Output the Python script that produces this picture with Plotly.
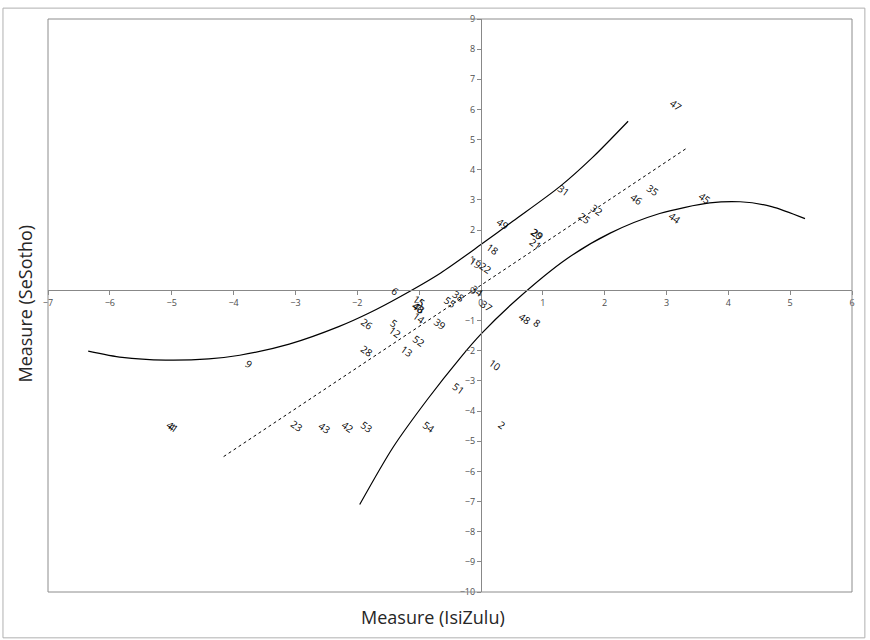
import plotly.graph_objects as go

# item labels and their measures
labels = ["47", "31", "35", "46", "45", "44", "32", "25", "49", "20", "29", "21", "18",
          "19", "22", "6", "15", "40", "48", "14", "55", "38", "34", "37", "39", "5", "12",
          "52", "13", "26", "28", "9", "4", "41", "23", "43", "42", "53", "54", "2", "51",
          "10", "48", "8"]
isizulu = [3.15, 1.33, 2.78, 2.52, 3.62, 3.14, 1.88, 1.68, 0.36, 0.91, 0.92, 0.89, 0.19,
           -0.08, 0.08, -1.39, -1.00, -1.01, -1.00, -1.00, -0.50, -0.36, -0.06, 0.10, -0.66, -1.41, -1.39,
           -1.00, -1.20, -1.84, -1.84, -3.75, -4.99, -4.98, -2.97, -2.52, -2.15, -1.84, -0.84, 0.34, -0.37,
           0.23, 0.72, 0.91]
sesotho = [6.14, 3.33, 3.33, 3.04, 3.07, 2.41, 2.67, 2.41, 2.21, 1.88, 1.88, 1.55, 1.39,
           0.92, 0.76, -0.03, -0.36, -0.59, -0.59, -0.92, -0.40, -0.17, -0.03, -0.50, -1.12, -1.09, -1.39,
           -1.68, -2.01, -1.12, -2.01, -2.44, -4.52, -4.52, -4.49, -4.55, -4.52, -4.52, -4.52, -4.46, -3.23,
           -2.48, -0.94, -1.09]

# upper control curve
upper_x = [-6.35, -5.80, -5.10, -4.40, -3.90, -3.10, -2.30, -1.80, -1.30, -0.65, 0.00, 0.52, 1.28, 1.81, 2.38]
upper_y = [-2.01, -2.22, -2.31, -2.27, -2.15, -1.78, -1.20, -0.74, -0.20, 0.58, 1.52, 2.30, 3.45, 4.42, 5.61]
# lower control curve
lower_x = [-1.96, -1.42, -0.86, -0.34, 0.00, 0.58, 1.39, 2.09, 2.89, 3.70, 4.19, 4.70, 5.24]
lower_y = [-7.10, -5.20, -3.60, -2.25, -1.45, -0.30, 1.05, 1.90, 2.55, 2.90, 2.94, 2.78, 2.38]
# fitted line
fit_x = [-4.16, 3.33]
fit_y = [-5.51, 4.72]

x_range = [-7, 6]
y_range = [-10, 9]

fig = go.Figure()
fig.add_trace(go.Scatter(x=upper_x, y=upper_y, mode="lines",
                         line=dict(color="black", width=1.2, shape="spline", smoothing=0.8),
                         hoverinfo="skip"))
fig.add_trace(go.Scatter(x=lower_x, y=lower_y, mode="lines",
                         line=dict(color="black", width=1.2, shape="spline", smoothing=0.8),
                         hoverinfo="skip"))
fig.add_trace(go.Scatter(x=fit_x, y=fit_y, mode="lines", line=dict(color="black", width=1, dash="3px,3px"),
                         hoverinfo="skip"))

for t, xv, yv in zip(labels, isizulu, sesotho):
    fig.add_annotation(x=xv, y=yv, text=t, showarrow=False, textangle=35,
                       font=dict(family="Open Sans", size=10, color="black"))

axis_col = "#888888"
fig.update_xaxes(range=x_range, dtick=1, tick0=0, anchor="free",
                 position=(0 - y_range[0]) / (y_range[1] - y_range[0]),
                 showline=True, linecolor=axis_col, linewidth=1, ticks="outside", ticklen=4,
                 tickcolor=axis_col, showgrid=False, zeroline=False,
                 tickfont=dict(family="Open Sans", size=9, color="#4d4d4d"))
fig.update_yaxes(range=y_range, dtick=1, tick0=0, anchor="free",
                 position=(0 - x_range[0]) / (x_range[1] - x_range[0]),
                 showline=True, linecolor=axis_col, linewidth=1, ticks="outside", ticklen=4,
                 tickcolor=axis_col, showgrid=False, zeroline=False,
                 tickfont=dict(family="Open Sans", size=9, color="#4d4d4d"))

# plot area border and outer chart border
fig.add_shape(type="rect", xref="paper", yref="paper", x0=0, x1=1, y0=0, y1=1,
              line=dict(color="#8c8c8c", width=1))
fig.add_shape(type="rect", xref="paper", yref="paper", x0=-0.056, x1=1.016, y0=-0.080, y1=1.019,
              line=dict(color="#b0b0b0", width=1))

fig.add_annotation(xref="paper", yref="paper", x=(433 - 48) / 804, y=(592 - 617) / 576,
                   text="Measure (IsiZulu)", showarrow=False, yanchor="middle",
                   font=dict(family="Open Sans", size=18, color="#262626"))
fig.add_annotation(xref="paper", yref="paper", x=(25 - 48) / 804, y=(592 - 302) / 576,
                   text="Measure (SeSotho)", showarrow=False, textangle=-90, xanchor="center",
                   font=dict(family="Open Sans", size=18, color="#262626"))

fig.update_layout(width=870, height=640, margin=dict(l=48, r=18, t=16, b=48),
                  paper_bgcolor="white", plot_bgcolor="white", showlegend=False)

fig.write_html("out.html", config={"displayModeBar": False},
               post_script="document.body.style.margin='0';document.body.style.overflow='hidden';")
